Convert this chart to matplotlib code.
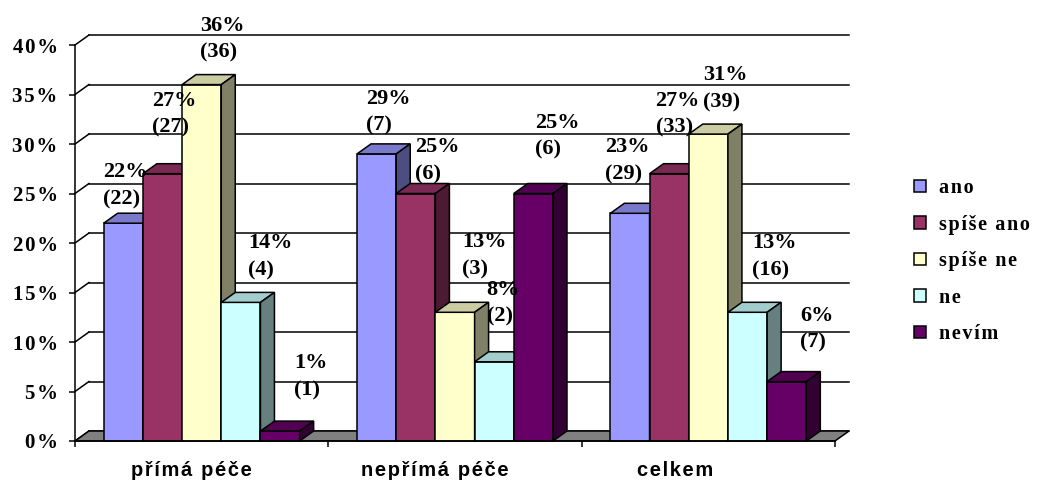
import matplotlib.pyplot as plt
from matplotlib.patches import Polygon, Rectangle, Patch

# survey answers (percent of respondents) and counts per group
groups = ['přímá péče', 'nepřímá péče', 'celkem']
answers = ['ano', 'spíše ano', 'spíše ne', 'ne', 'nevím']
pct = [
    [22, 27, 36, 14, 1],
    [29, 25, 13, 8, 25],
    [23, 27, 31, 13, 6],
]
counts = [
    [22, 27, 36, 4, 1],
    [7, 6, 3, 2, 6],
    [29, 33, 39, 16, 7],
]
yticks = [0, 5, 10, 15, 20, 25, 30, 35, 40]

colors = ['#9999FF', '#993366', '#FFFFCC', '#CCFFFF', '#660066']

# label shift (pixels) from the top-left front corner of each column
lab_shift = [
    [(-1, 51), (9, 73), (18, 59), (27, 59), (34, 68)],
    [(9, 55), (19, 46), (27, 70), (12, 72), (21, 71)],
    [(-5, 66), (6, 73), (14, 59), (24, 69), (33, 66)],
]

W, H = 1039, 487
fig = plt.figure(figsize=(W / 100, H / 100), dpi=100)
ax_l, ax_b, ax_w, ax_h = 75, 46, 760, 396
ax = fig.add_axes([ax_l / W, ax_b / H, ax_w / W, ax_h / H])
ax.set_xlim(0, len(groups))
ax.set_ylim(0, 40)

# depth of the 3d box in data units
DX = 14 / ax_w * len(groups)
DY = 10 / ax_h * 40
LW = 1.1

serif = ['Liberation Serif', 'DejaVu Serif']
sans = ['Liberation Sans', 'DejaVu Sans']


def spaced(s):
    return '\u200a'.join(s)


def shade(c, f):
    r, g, b = [int(c[i:i + 2], 16) for i in (1, 3, 5)]
    return (r * f / 255, g * f / 255, b * f / 255)


# back wall grid + left wall diagonals
nx = len(groups)
for t in yticks:
    ax.plot([DX, nx + DX], [t + DY, t + DY], color='black', lw=LW, clip_on=False, zorder=1)
    ax.plot([0, DX], [t, t + DY], color='black', lw=LW, clip_on=False, zorder=1)

# floor
ax.add_patch(Polygon([(0, 0), (nx, 0), (nx + DX, DY), (DX, DY)], closed=True,
                     facecolor='#808080', edgecolor='black', lw=LW, clip_on=False, zorder=2))

bw = 0.1547
off = (1 - bw * len(answers)) / 2
z = 3
for gi in range(len(groups)):
    for si in range(len(answers)):
        v = pct[gi][si]
        x0 = gi + off + si * bw
        c = colors[si]
        ax.add_patch(Rectangle((x0, 0), bw, v, facecolor=c, edgecolor='black',
                               lw=LW, clip_on=False, zorder=z))
        ax.add_patch(Polygon([(x0, v), (x0 + bw, v), (x0 + bw + DX, v + DY), (x0 + DX, v + DY)],
                             closed=True, facecolor=shade(c, 0.8), edgecolor='black',
                             lw=LW, clip_on=False, zorder=z))
        ax.add_patch(Polygon([(x0 + bw, 0), (x0 + bw + DX, DY), (x0 + bw + DX, v + DY), (x0 + bw, v)],
                             closed=True, facecolor=shade(c, 0.5), edgecolor='black',
                             lw=LW, clip_on=False, zorder=z))
        z += 1

# value labels
for gi in range(len(groups)):
    for si in range(len(answers)):
        v = pct[gi][si]
        x0 = gi + off + si * bw
        sx, sy = lab_shift[gi][si]
        ax.annotate(f'{v}%', (x0, v), xytext=(sx, sy), textcoords='offset pixels',
                    ha='left', va='center', fontsize=16, fontweight='bold',
                    family=serif, zorder=100, annotation_clip=False)
        ax.annotate(f'({counts[gi][si]})', (x0, v), xytext=(sx, sy - 27),
                    textcoords='offset pixels', ha='left', va='center', fontsize=16,
                    fontweight='bold', family=serif, zorder=100, annotation_clip=False)

# axes
for s in ['top', 'right']:
    ax.spines[s].set_visible(False)
for s in ['left', 'bottom']:
    ax.spines[s].set_linewidth(LW)
    ax.spines[s].set_zorder(50)
ax.set_yticks(yticks)
ax.set_yticklabels([spaced(f'{t}%') for t in yticks], fontsize=15,
                   fontweight='bold', family=serif)
ax.set_xticks(range(len(groups) + 1))
ax.set_xticklabels([])
ax.tick_params(axis='both', length=4.5, width=LW, direction='out')
ax.tick_params(axis='y', pad=8)

cat_shift = [-10, -20, -33]
for gi, g in enumerate(groups):
    ax.annotate(spaced(g), (gi + 0.5, 0), xytext=(cat_shift[gi], -29),
                textcoords='offset pixels', ha='center', va='center', fontsize=14.5,
                fontweight='bold', family=sans, annotation_clip=False)

handles = [Patch(facecolor=c, edgecolor='black', lw=LW) for c in colors]
leg = fig.legend(handles, [spaced(a) for a in answers], loc='upper left',
                 bbox_to_anchor=(914 / W, (H - 178) / H), frameon=False,
                 borderpad=0, borderaxespad=0, handlelength=0.6, handleheight=0.6,
                 handletextpad=0.62, labelspacing=0.82,
                 prop={'family': serif, 'weight': 'bold', 'size': 14.5})

fig.savefig('out.png', dpi=100)
